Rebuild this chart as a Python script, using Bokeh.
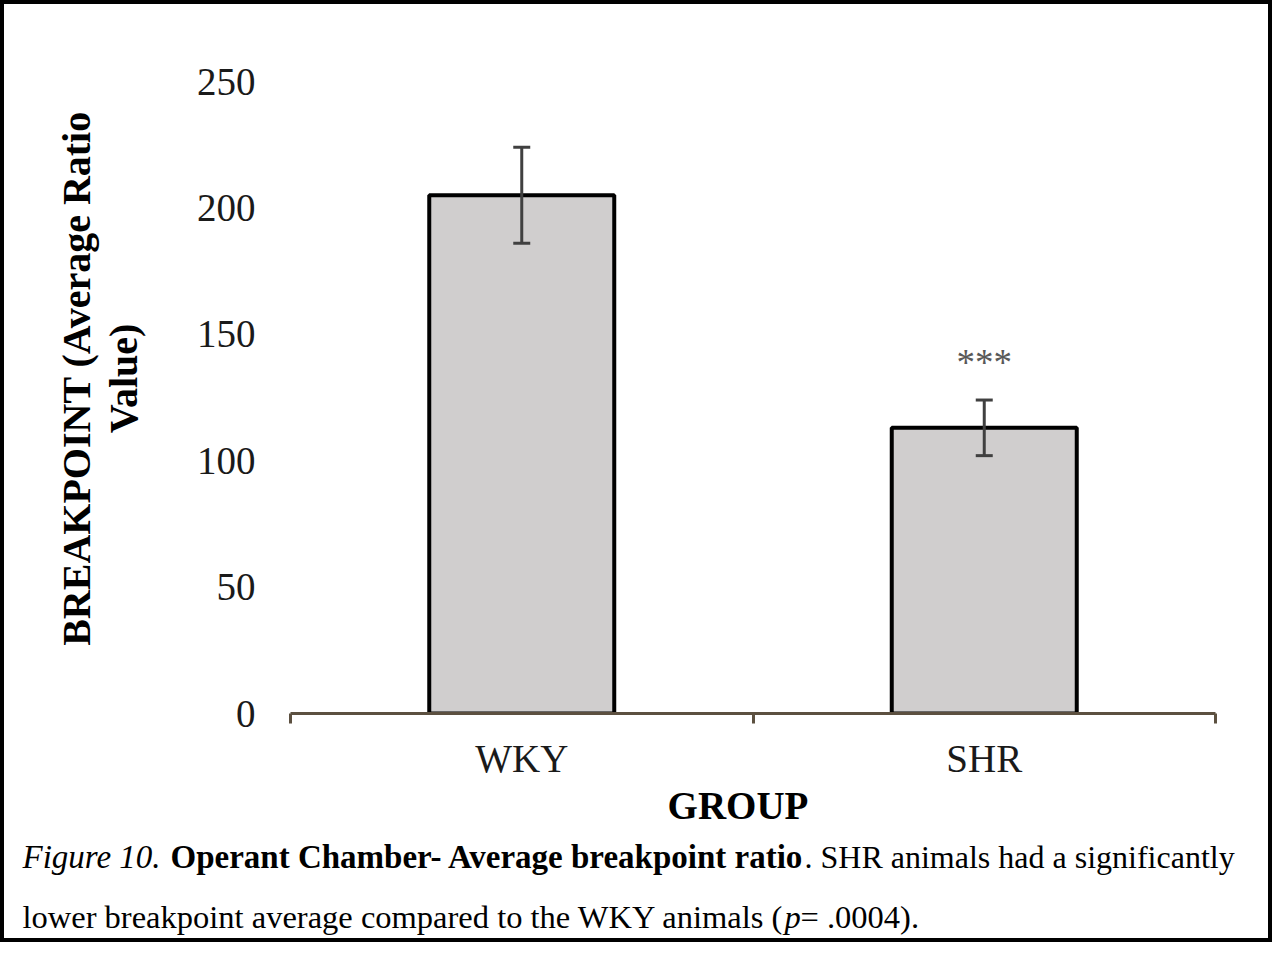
import math
from bokeh.plotting import figure
from bokeh.layouts import column, row
from bokeh.models import (Range1d, FixedTicker, Label, Whisker, TeeHead,
                          ColumnDataSource, LinearAxis)
from bokeh.embed import file_html
from bokeh.resources import INLINE

# ---------------- data ----------------
groups = ["WKY", "SHR"]
breakpoint_mean = [205.0, 113.0]
breakpoint_err = [19.0, 11.0]
significance = ["", "***"]
y_ticks = [0, 50, 100, 150, 200, 250]
y_label_lines = ["BREAKPOINT (Average Ratio", "Value)"]
x_label = "GROUP"
caption_line1 = [("Figure 10.", "italic"),
                 ("Operant Chamber- Average breakpoint ratio", "bold"),
                 (". SHR animals had a significantly", "normal")]
caption_line2 = [("lower breakpoint average compared to the WKY animals (", "normal"),
                 ("p", "italic"),
                 ("= .0004).", "normal")]

SERIF = "Liberation Serif"
AXIS_COLOR = "#5c5040"
BORDER = 4

# overall inner area (inside the 4px CSS border)
IW, IH = 1272 - 2 * BORDER, 942 - 2 * BORDER      # 1264 x 934
LW = 146                                           # left strip (y title)
MW = IW - LW                                       # main figure width
MH = 779                                           # main figure height
CH = IH - MH                                       # caption height


def blank(w, h):
    f = figure(width=w, height=h, output_backend="svg", toolbar_location=None,
               x_range=Range1d(0, w), y_range=Range1d(h, 0),
               x_axis_type=None, y_axis_type=None,
               min_border_left=0, min_border_right=0,
               min_border_top=0, min_border_bottom=0)
    f.outline_line_color = None
    f.background_fill_color = "white"
    f.border_fill_color = "white"
    return f


# ---------------- main chart ----------------
p = figure(width=MW, height=MH, output_backend="svg", toolbar_location=None,
           x_range=Range1d(0, len(groups)), y_range=Range1d(0, 250),
           min_border_left=140, min_border_right=53,
           min_border_top=77, min_border_bottom=MH - 77 - 632,
           x_axis_type=None, y_axis_type=None)
p.outline_line_color = None
p.background_fill_color = "white"
p.border_fill_color = "white"

xcent = [i + 0.5 for i in range(len(groups))]

xaxis = LinearAxis(ticker=FixedTicker(ticks=xcent,
                                      minor_ticks=list(range(len(groups) + 1))))
xaxis.major_label_overrides = {c: g for c, g in zip(xcent, groups)}
xaxis.axis_line_color = AXIS_COLOR
xaxis.axis_line_width = 3
xaxis.major_tick_line_color = None
xaxis.major_tick_out = 0
xaxis.major_tick_in = 0
xaxis.minor_tick_line_color = AXIS_COLOR
xaxis.minor_tick_line_width = 3
xaxis.minor_tick_out = 10
xaxis.minor_tick_in = 0
xaxis.major_label_text_font = SERIF
xaxis.major_label_text_font_size = "39px"
xaxis.major_label_text_color = "#1a1a1a"
xaxis.major_label_standoff = 13
p.add_layout(xaxis, "below")

yaxis = LinearAxis(ticker=FixedTicker(ticks=y_ticks))
yaxis.axis_line_color = None
yaxis.major_tick_line_color = None
yaxis.major_tick_out = 0
yaxis.major_tick_in = 0
yaxis.minor_tick_line_color = None
yaxis.major_label_text_font = SERIF
yaxis.major_label_text_font_size = "39px"
yaxis.major_label_text_color = "#1a1a1a"
yaxis.major_label_standoff = 35
p.add_layout(yaxis, "left")

src = ColumnDataSource(dict(
    x=xcent, top=breakpoint_mean,
    upper=[m + e for m, e in zip(breakpoint_mean, breakpoint_err)],
    lower=[m - e for m, e in zip(breakpoint_mean, breakpoint_err)],
))
p.vbar(x="x", top="top", bottom=0, width=0.4, source=src,
       fill_color="#d0cece", line_color="black", line_width=4)

EB = "#404040"
wh = Whisker(source=src, base="x", upper="upper", lower="lower",
             line_color=EB, line_width=3, level="annotation",
             upper_head=TeeHead(size=17, line_color=EB, line_width=3),
             lower_head=TeeHead(size=17, line_color=EB, line_width=3))
p.add_layout(wh)

for i, s in enumerate(significance):
    if s:
        up = breakpoint_mean[i] + breakpoint_err[i]
        p.add_layout(Label(x=xcent[i], y=up + 15, text=s, text_align="center",
                           text_baseline="alphabetic", text_font=SERIF,
                           text_font_size="37px", text_color="#595959"))

# ---------------- left strip: y-axis title ----------------
left = blank(LW, MH)
for bx, line in zip([72, 119], y_label_lines):
    left.add_layout(Label(x=bx, y=366, text=line, angle=math.pi / 2,
                          text_align="center", text_baseline="alphabetic",
                          text_font=SERIF, text_font_style="bold",
                          text_font_size="40px", text_color="black"))

# ---------------- caption strip ----------------
cap = blank(IW, CH)
cap.add_layout(Label(x=733.5, y=22, text=x_label, text_align="center",
                     text_baseline="alphabetic", text_font=SERIF,
                     text_font_style="bold", text_font_size="39px",
                     text_color="black"))

line1_x = [18, 166, 800]
line1_size = ["33px", "33px", "32px"]
line2_x = [18, 780, 796]
for (t, style), x, sz in zip(caption_line1, line1_x, line1_size):
    cap.add_layout(Label(x=x, y=73, text=t, text_align="left",
                         text_baseline="alphabetic", text_font=SERIF,
                         text_font_style=style, text_font_size=sz,
                         text_color="black"))
for (t, style), x in zip(caption_line2, line2_x):
    cap.add_layout(Label(x=x, y=133, text=t, text_align="left",
                         text_baseline="alphabetic", text_font=SERIF,
                         text_font_style=style, text_font_size="32.5px",
                         text_color="black"))

layout = column(row(left, p, spacing=0), cap, spacing=0,
                styles={"border": f"{BORDER}px solid black",
                        "background-color": "white"})

open("out.html", "w").write(file_html(layout, INLINE, title="Figure 10"))
